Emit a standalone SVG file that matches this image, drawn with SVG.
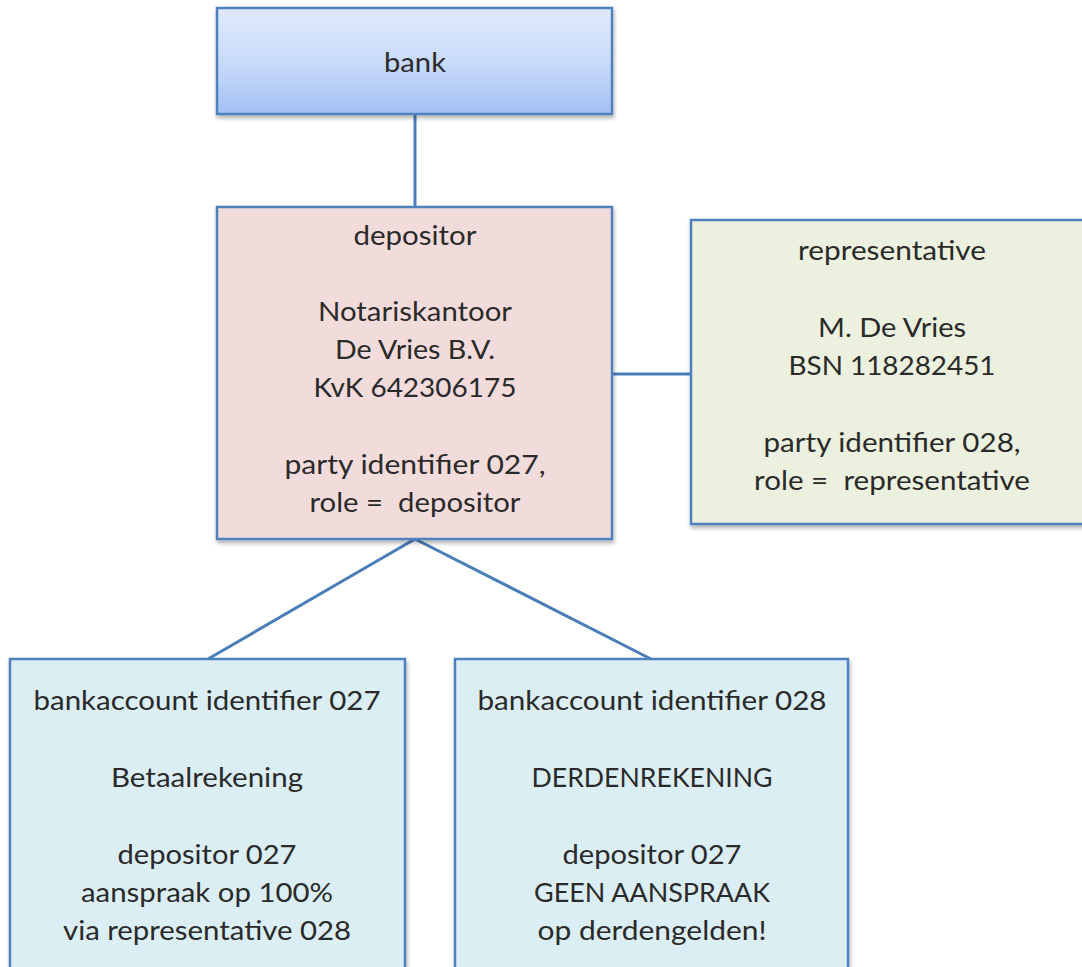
<svg xmlns="http://www.w3.org/2000/svg" width="1082" height="967" viewBox="0 0 1082 967">
  <style>
    .box { stroke: #4f81bd; stroke-width: 2.5; filter: url(#shadow); }
    .link { stroke: #4a7ebb; stroke-width: 3; fill: none; }
    text { font-family: Lato, "Liberation Sans", Arial, sans-serif; font-size: 27.5px; fill: #2a2a2a; text-anchor: middle; }
  </style>
  <defs>
    <linearGradient id="bankFill" x1="0" y1="0" x2="0" y2="1">
      <stop offset="0" stop-color="#e0eafb"/>
      <stop offset="0.5" stop-color="#c9dbf9"/>
      <stop offset="1" stop-color="#a3c1f4"/>
    </linearGradient>
    <filter id="shadow" x="-5%" y="-5%" width="110%" height="115%">
      <feDropShadow dx="1" dy="3" stdDeviation="2" flood-color="#000" flood-opacity="0.3"/>
    </filter>
  </defs>
  <rect width="1082" height="967" fill="#fff"/>

  <g id="connectors">
    <line class="link" x1="415" y1="114" x2="415" y2="207"/>
    <line class="link" x1="612" y1="374" x2="691" y2="374"/>
    <line class="link" x1="415" y1="539" x2="208" y2="659"/>
    <line class="link" x1="415" y1="539" x2="651" y2="659"/>
  </g>

  <g id="bank">
    <rect class="box" x="217" y="8" width="395" height="106" fill="url(#bankFill)"/>
    <text x="415" y="72" textLength="62" lengthAdjust="spacingAndGlyphs">bank</text>
  </g>

  <g id="depositor">
    <rect class="box" x="217" y="207" width="395" height="332" fill="#f2dcdb"/>
    <text x="415" y="245" textLength="123" lengthAdjust="spacingAndGlyphs">depositor</text>
    <text x="415" y="321" textLength="194" lengthAdjust="spacingAndGlyphs">Notariskantoor</text>
    <text x="415" y="359" textLength="160" lengthAdjust="spacingAndGlyphs">De Vries B.V.</text>
    <text x="415" y="397" textLength="203" lengthAdjust="spacingAndGlyphs">KvK 642306175</text>
    <text x="415" y="474" textLength="261" lengthAdjust="spacingAndGlyphs">party identifier 027,</text>
    <text x="415" y="512" textLength="211" lengthAdjust="spacingAndGlyphs" xml:space="preserve">role =  depositor</text>
  </g>

  <g id="representative">
    <rect class="box" x="691" y="220" width="394" height="304" fill="#ebf1de"/>
    <text x="892" y="260" textLength="188" lengthAdjust="spacingAndGlyphs">representative</text>
    <text x="892" y="337" textLength="148" lengthAdjust="spacingAndGlyphs">M. De Vries</text>
    <text x="892" y="375" textLength="207" lengthAdjust="spacingAndGlyphs">BSN 118282451</text>
    <text x="892" y="452" textLength="257" lengthAdjust="spacingAndGlyphs">party identifier 028,</text>
    <text x="892" y="490" textLength="276" lengthAdjust="spacingAndGlyphs" xml:space="preserve">role =  representative</text>
  </g>

  <g id="account-027">
    <rect class="box" x="10" y="659" width="395" height="320" fill="#dbeef4"/>
    <text x="207" y="710" textLength="347" lengthAdjust="spacingAndGlyphs">bankaccount identifier 027</text>
    <text x="207" y="787" textLength="192" lengthAdjust="spacingAndGlyphs">Betaalrekening</text>
    <text x="207" y="864" textLength="179" lengthAdjust="spacingAndGlyphs">depositor 027</text>
    <text x="207" y="902" textLength="252" lengthAdjust="spacingAndGlyphs">aanspraak op 100%</text>
    <text x="207" y="940" textLength="288" lengthAdjust="spacingAndGlyphs">via representative 028</text>
  </g>

  <g id="account-028">
    <rect class="box" x="455" y="659" width="393" height="320" fill="#dbeef4"/>
    <text x="652" y="710" textLength="349" lengthAdjust="spacingAndGlyphs">bankaccount identifier 028</text>
    <text x="652" y="787" textLength="241" lengthAdjust="spacingAndGlyphs">DERDENREKENING</text>
    <text x="652" y="864" textLength="179" lengthAdjust="spacingAndGlyphs">depositor 027</text>
    <text x="652" y="902" textLength="236" lengthAdjust="spacingAndGlyphs">GEEN AANSPRAAK</text>
    <text x="652" y="940" textLength="229" lengthAdjust="spacingAndGlyphs">op derdengelden!</text>
  </g>
</svg>
